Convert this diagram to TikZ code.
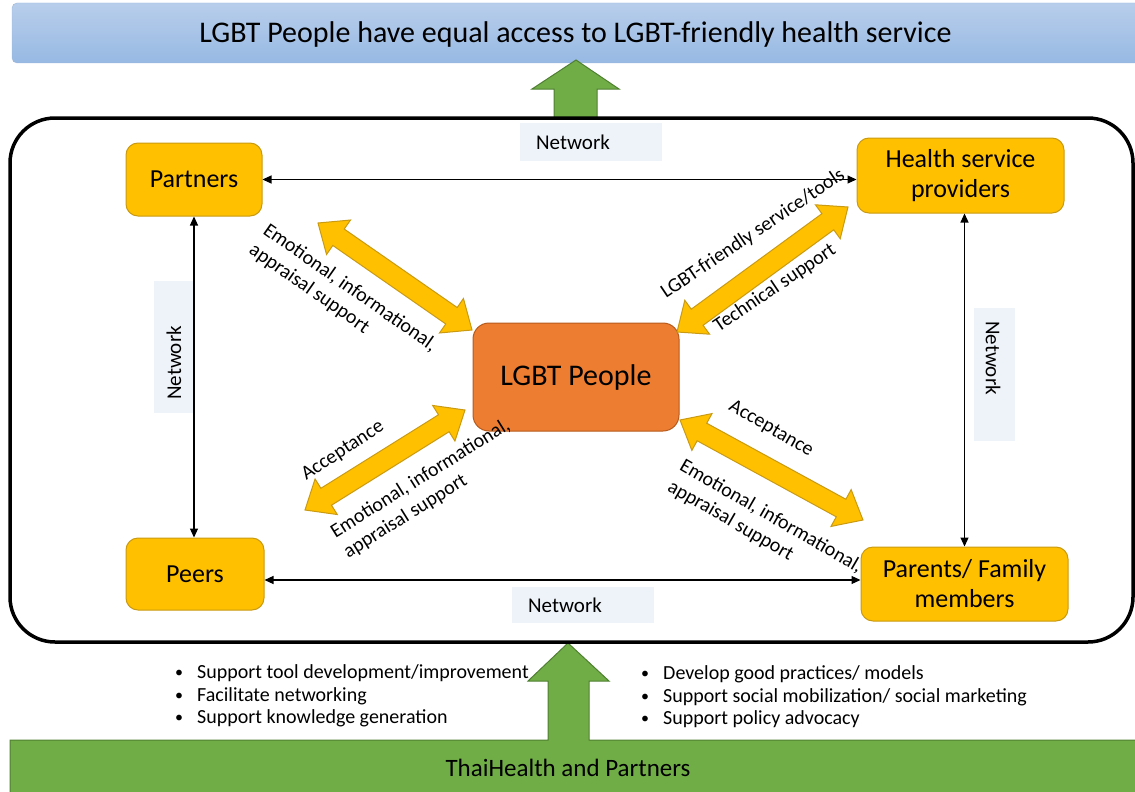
\documentclass[tikz,border=0pt]{standalone}
\usepackage{fontspec}
\setmainfont{Carlito}
\usetikzlibrary{arrows.meta,calc}

\definecolor{gold}{HTML}{FFC000}
\definecolor{goldline}{HTML}{C99A12}
\definecolor{orangefill}{HTML}{ED7D31}
\definecolor{orangeline}{HTML}{B65A1C}
\definecolor{leafgreen}{HTML}{70AD47}
\definecolor{leafline}{HTML}{4F7F31}
\definecolor{skytop}{HTML}{B8CEEB}
\definecolor{skybottom}{HTML}{97B9E3}
\definecolor{skyline}{HTML}{9DB8DC}
\definecolor{netbg}{HTML}{EEF3FA}

\tikzset{
  actor/.style={draw=goldline, fill=gold, line width=1pt, rounded corners=12pt,
    inner sep=0pt, align=center, font=\fontsize{26}{30}\selectfont},
  link/.style={{Triangle[length=9pt,width=8pt]}-{Triangle[length=9pt,width=8pt]}, line width=1.1pt},
  netbox/.style={fill=netbg, draw=none},
  nettext/.style={font=\fontsize{21}{24}\selectfont, inner sep=0pt},
  flowlabel/.style={font=\fontsize{20}{24}\selectfont, align=left, inner sep=0pt},
  bullets/.style={font=\fontsize{20}{22.5}\selectfont, align=left, inner sep=0pt, anchor=west},
}

% wide two-headed block arrow between two points
\newcommand\supportarrow[2]{%
  \filldraw[fill=gold, draw=goldline, line width=1pt, line join=miter]
    (#1) -- ($(#1)!25pt!(#2)!21pt!90:(#2)$) -- ($(#1)!25pt!(#2)!10pt!90:(#2)$)
    -- ($(#2)!25pt!(#1)!10pt!-90:(#1)$) -- ($(#2)!25pt!(#1)!21pt!-90:(#1)$)
    -- (#2) -- ($(#2)!25pt!(#1)!21pt!90:(#1)$) -- ($(#2)!25pt!(#1)!10pt!90:(#1)$)
    -- ($(#1)!25pt!(#2)!10pt!-90:(#2)$) -- ($(#1)!25pt!(#2)!21pt!-90:(#2)$) -- cycle;}

\newcommand\bul{\makebox[22pt][l]{\raisebox{1pt}{\fontsize{16}{16}\selectfont\textbullet}}}

\begin{document}
\begin{tikzpicture}[x=1pt,y=-1pt]
\clip (0,0) rectangle (1135,792);

% goal banner
\draw[skyline, top color=skytop, bottom color=skybottom, rounded corners=5pt]
  (12,3) rectangle (1150,63);
\node[font=\fontsize{30}{34}\selectfont] (goal) at (575.5,35) {LGBT People have equal access to LGBT-friendly health service};

% arrow up to the goal
\filldraw[fill=leafgreen, draw=leafline, line width=1pt]
  (554,118) -- (554,89) -- (532,89) -- (576,60) -- (619,89) -- (597,89) -- (597,118) -- cycle;

% base bar with its arrow
\filldraw[fill=leafgreen, draw=leafline, line width=1pt]
  (10,800) -- (10,740) -- (548,740) -- (548,681) -- (528,681) -- (568,643)
  -- (609,681) -- (589,681) -- (589,740) -- (1150,740) -- (1150,800) -- cycle;
\node[font=\fontsize{25}{28}\selectfont] (base) at (568,768) {ThaiHealth and Partners};

% the network frame
\draw[line width=3.5pt, rounded corners=45pt] (10,118) rectangle (1133,642);

% network tags
\fill[netbox] (520,123) rectangle (662,161);
\node[nettext] (nettop) at (573,142) {Network};
\fill[netbox] (154,281) rectangle (193,413);
\node[nettext, rotate=90] (netleft) at (174,363) {Network};
\fill[netbox] (974,308) rectangle (1015,441);
\node[nettext, rotate=-90] (netright) at (993,358) {Network};
\fill[netbox] (512,587) rectangle (654,623);
\node[nettext] (netbottom) at (565,605) {Network};

% actors
\node[actor, minimum width=136pt, minimum height=73pt] (partners) at (194,179.5) {Partners};
\node[actor, minimum width=207pt, minimum height=75pt] (health) at (960.5,175.5) {Health service\\providers};
\node[actor, minimum width=138pt, minimum height=72pt] (peers) at (195,574) {Peers};
\node[actor, minimum width=207pt, minimum height=74pt] (parents) at (964.5,584) {Parents/ Family\\members};
\node[draw=orangeline, fill=orangefill, line width=1pt, rounded corners=16pt, inner sep=0pt,
  minimum width=206pt, minimum height=108pt, font=\fontsize{30}{34}\selectfont] (lgbt) at (576,377) {LGBT People};

% network links between actors
\draw[link] (partners.east) -- (partners.east -| health.west);
\draw[link] (partners.south) -- (partners.south |- peers.north);
\draw[link] ([yshift=-6pt]peers.east) -- ([yshift=-6pt]peers.east -| parents.west);
\draw[link] ([xshift=4pt]health.south) -- ([xshift=4pt]health.south |- parents.north);

% support flows to and from LGBT people
\coordinate (ulA) at (318,223); \coordinate (ulB) at (472,330);
\coordinate (urA) at (677,332); \coordinate (urB) at (848,207);
\coordinate (llA) at (305,510); \coordinate (llB) at (465,410);
\coordinate (lrA) at (680,420); \coordinate (lrB) at (863,520);
\supportarrow{ulA}{ulB}
\supportarrow{urA}{urB}
\supportarrow{llA}{llB}
\supportarrow{lrA}{lrB}

\node[flowlabel, rotate=-35] (lab1) at (343,298) {Emotional, informational,\\appraisal support};
\node[flowlabel, rotate=34] (lab2a) at (753,234) {LGBT-friendly service/tools};
\node[flowlabel, rotate=34] (lab2b) at (775,288) {Technical support};
\node[flowlabel, rotate=33] (lab3a) at (343,451) {Acceptance};
\node[flowlabel, rotate=32] (lab3b) at (427,489) {Emotional, informational,\\appraisal support};
\node[flowlabel, rotate=-30] (lab4a) at (771,429) {Acceptance};
\node[flowlabel, rotate=-30] (lab4b) at (765,527) {Emotional, informational,\\appraisal support};

% roles of ThaiHealth and partners
\node[bullets] (roles1) at (175,696) {\bul Support tool development/improvement\\\bul Facilitate networking\\\bul Support knowledge generation};
\node[bullets] (roles2) at (641,697) {\bul Develop good practices/ models\\\bul Support social mobilization/ social marketing\\\bul Support policy advocacy};
\end{tikzpicture}
\end{document}
